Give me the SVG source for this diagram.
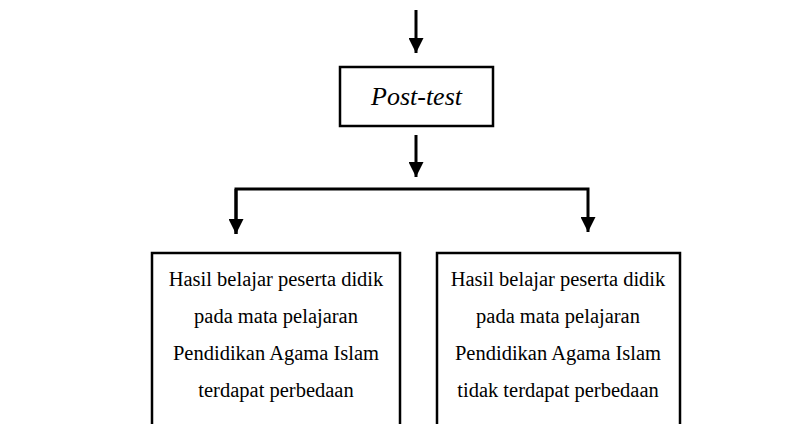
<svg xmlns="http://www.w3.org/2000/svg" width="810" height="424" viewBox="0 0 810 424">
<defs>
<marker id="ah" viewBox="0 0 10 10" refX="10" refY="5" markerWidth="5" markerHeight="5" markerUnits="strokeWidth" orient="auto">
<path d="M0,0 L10,5 L0,10 z" fill="#000"/>
</marker>
<style>
.box{fill:#fff;stroke:#000;stroke-width:2.5}
.ln{fill:none;stroke:#000;stroke-width:3}
text{font-family:'Liberation Serif', 'Times New Roman', serif;font-size:20.5px;fill:#000;text-anchor:middle}
text.pt{font-style:italic;font-size:26px}
</style>
</defs>
<rect width="810" height="424" fill="#fff"/>
<g id="connectors">
<path class="ln" d="M416,10 L416,53" marker-end="url(#ah)"/>
<path class="ln" d="M416,135 L416,177" marker-end="url(#ah)"/>
<path class="ln" d="M236,234 L236,189 L588,189 L588,232" marker-end="url(#ah)"/>
<path class="ln" d="M236,189 L236,234" marker-end="url(#ah)"/>
</g>
<g id="posttest">
<rect class="box" x="340" y="67" width="153" height="59"/>
<text class="pt" x="416.5" y="105">Post-test</text>
</g>
<g id="hasil-beda">
<rect class="box" x="152" y="253" width="248" height="190"/>
<text x="276" y="286">Hasil belajar peserta didik</text>
<text x="276" y="323">pada mata pelajaran</text>
<text x="276" y="360">Pendidikan Agama Islam</text>
<text x="276" y="397">terdapat perbedaan</text>
</g>
<g id="hasil-tidak-beda">
<rect class="box" x="437" y="253" width="243" height="190"/>
<text x="558" y="286">Hasil belajar peserta didik</text>
<text x="558" y="323">pada mata pelajaran</text>
<text x="558" y="360">Pendidikan Agama Islam</text>
<text x="558" y="397">tidak terdapat perbedaan</text>
</g>
</svg>
